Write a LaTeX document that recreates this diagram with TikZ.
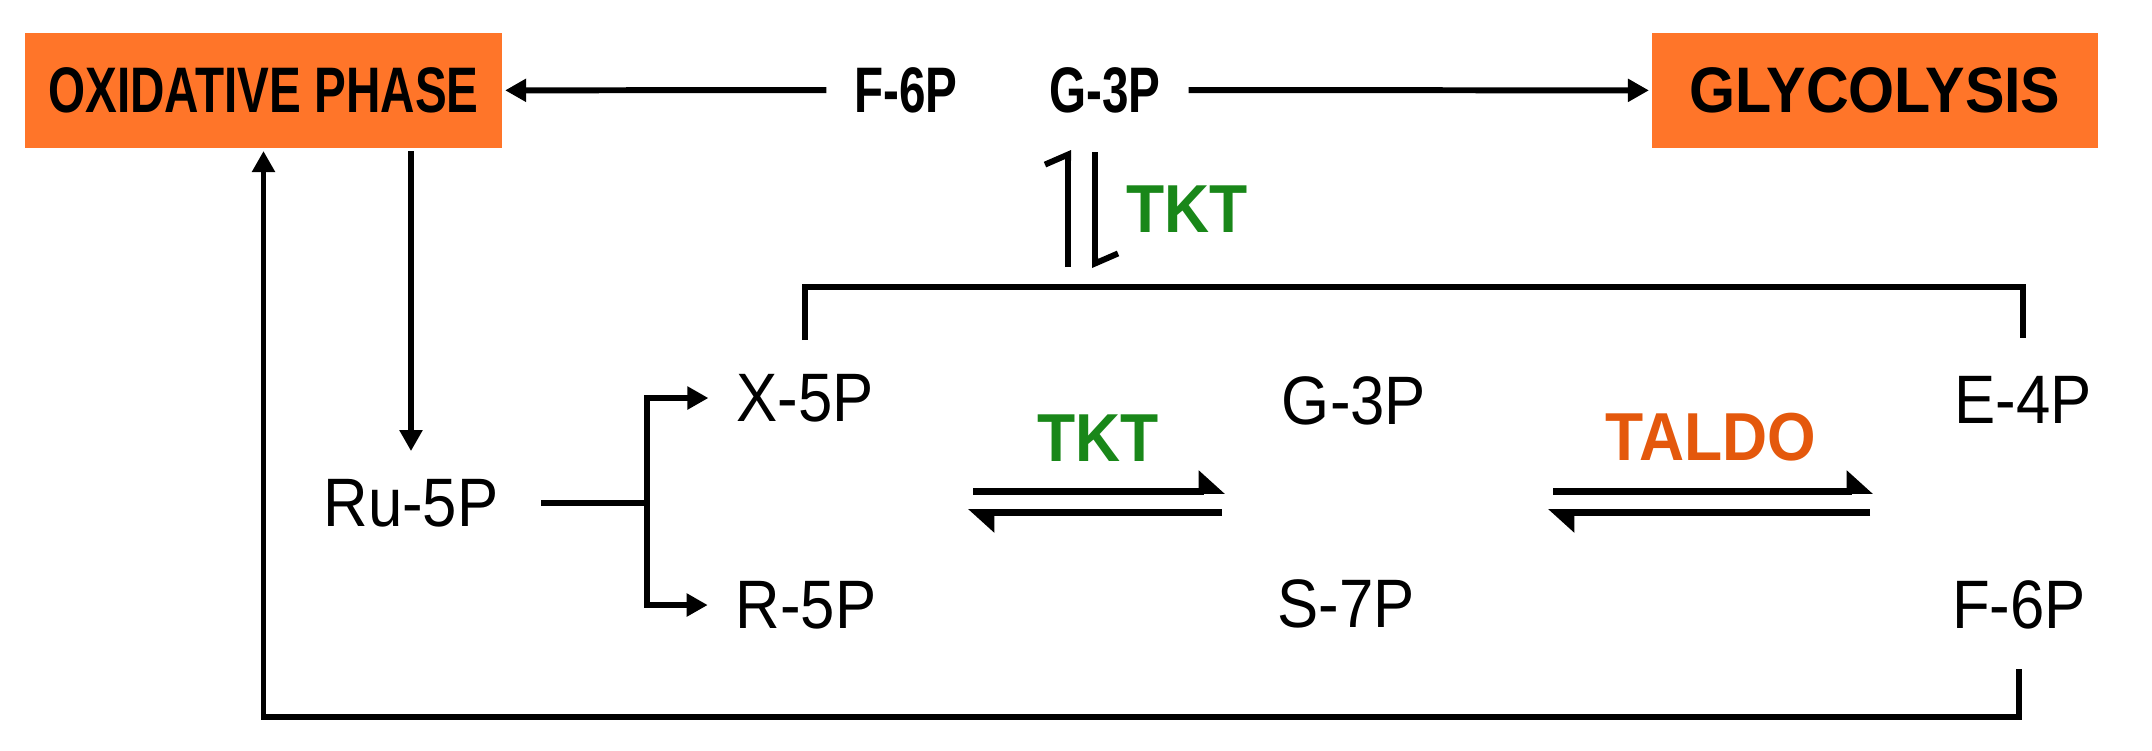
\documentclass[tikz,border=0pt]{standalone}
\usepackage{fontspec}
\setmainfont{Liberation Sans}
\newfontfamily\condbf[FakeStretch=0.74]{Liberation Sans Bold}
\newfontfamily\enzbf[FakeStretch=0.92]{Liberation Sans Bold}
\newfontfamily\metf[FakeStretch=0.9]{Liberation Sans}
\usetikzlibrary{arrows.meta, positioning}
\definecolor{orange1}{RGB}{255,117,41}
\definecolor{green1}{RGB}{25,135,25}
\definecolor{orange2}{RGB}{228,88,12}

\begin{document}
\begin{tikzpicture}[x=0.01cm, y=-0.01cm, line width=1.7pt,
                    ->, >={Triangle[length=0.21cm,width=0.22cm]}]
  \tikzstyle{phase}=[fill=orange1, draw=none, minimum height=1.15cm, inner sep=0pt]
  \tikzstyle{met}=[inner sep=0.25cm, font=\fontsize{19.5}{22}\metf]
  \tikzstyle{topmet}=[inner sep=0.25cm, font=\fontsize{18.3}{20}\condbf]
  \tikzstyle{enz}=[inner sep=0.1cm, font=\fontsize{19.3}{22}\enzbf]
  \tikzstyle{half}=[line width=2pt, -{Triangle[left,length=0.23cm,width=0.4cm]}]
  \tikzstyle{barb}=[line width=1.7pt, -{Straight Barb[left,length=0.1cm,width=0.46cm]}]
  \useasboundingbox (0,0) rectangle (2152,750);
  % boxes and top row
  \node[phase, minimum width=4.77cm, font=\fontsize{18.3}{20}\condbf] (ox) at (263.5,90.5) {OXIDATIVE PHASE};
  \node[phase, minimum width=4.46cm, font=\fontsize{18.3}{20}\enzbf] (gly) at (1875,90.5) {GLYCOLYSIS};
  \node[topmet] (f6top) at (906,90) {F-6P};
  \node[topmet] (g3top) at (1105,90) {G-3P};
  \node[enz, text=green1] (tkt1) at (1187,209) {TKT};
  % metabolites
  \node[met] (ru) at (411,503) {Ru-5P};
  \node[met] (x5) at (805,398) {X-5P};
  \node[met] (r5) at (806,605) {R-5P};
  \node[met] (g3) at (1354,401) {G-3P};
  \node[met] (s7) at (1346,604) {S-7P};
  \node[met] (e4) at (2023,400) {E-4P};
  \node[met] (f6) at (2019,605) {F-6P};
  \node[enz, text=green1] (tkt2) at (1098,438) {TKT};
  \node[enz, text=orange2] (taldo) at (1711,437) {TALDO};
  \coordinate (br) at (647,503);
  % reversible steps
  \coordinate (ua) at (1068,267); \coordinate (ub) at (1068,150);
  \coordinate (da) at (1095,152); \coordinate (db) at (1095,268);
  \coordinate (ta1) at (973,491);  \coordinate (ta2) at (1225,491);
  \coordinate (tb1) at (1222,512); \coordinate (tb2) at (968,512);
  \coordinate (la1) at (1553,491); \coordinate (la2) at (1873,491);
  \coordinate (lb1) at (1870,512); \coordinate (lb2) at (1548,512);
  \path (f6top) edge (ox);
  \path (g3top) edge (gly);
  \draw (ox.south -| ru.north) -- (ru.north);
  \draw[shorten <=0.12cm] (f6.south) -- (f6.south |- 0,717) -| (ox.south);
  \draw[-, shorten <=0.15cm] (ru) -- (br);
  \draw (br) |- (x5);
  \draw (br) |- (r5);
  \draw[-, shorten <=0.06cm, shorten >=0.1cm] (x5.north) -- (x5.north |- 0,287) -| (e4.north);
  \draw[barb] (ua) -- (ub);
  \draw[barb] (da) -- (db);
  \draw[half] (ta1) -- (ta2);
  \draw[half] (tb1) -- (tb2);
  \draw[half] (la1) -- (la2);
  \draw[half] (lb1) -- (lb2);
\end{tikzpicture}
\end{document}
